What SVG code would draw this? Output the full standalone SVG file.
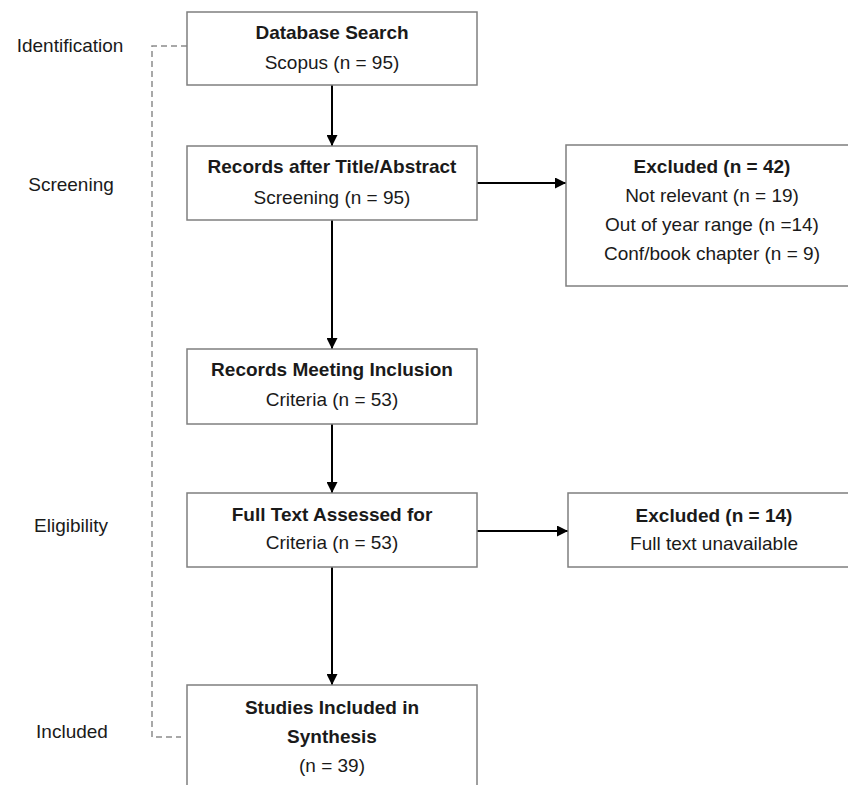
<svg xmlns="http://www.w3.org/2000/svg" width="848" height="785" viewBox="0 0 848 785">
<style>
.box{fill:#fff;stroke:#7f7f7f;stroke-width:1.5}
.t{font-family:"Liberation Sans",Arial,sans-serif;font-size:19px;fill:#1a1a1a;text-anchor:middle;dominant-baseline:central}
.b{font-weight:bold}
.lbl{font-family:"Liberation Sans",Arial,sans-serif;font-size:19px;fill:#1a1a1a;text-anchor:middle;dominant-baseline:central}
.ar{stroke:#000;stroke-width:2;fill:none}
.dash{stroke:#8c8c8c;stroke-width:1.5;fill:none;stroke-dasharray:6,4}
</style>
<defs>
<marker id="ah" viewBox="0 0 10 10" refX="10" refY="5" markerWidth="5.5" markerHeight="5.5" orient="auto" markerUnits="strokeWidth">
<path d="M0,0 L10,5 L0,10 z" fill="#000"/>
</marker>
</defs>
<rect width="848" height="785" fill="#fff"/>
<g id="stage-labels">
<text class="lbl" x="70" y="45">Identification</text>
<text class="lbl" x="71" y="184">Screening</text>
<text class="lbl" x="71" y="525">Eligibility</text>
<text class="lbl" x="72" y="731">Included</text>
</g>
<g id="connectors">
<path class="dash" d="M187,46 H152 V737 H181"/>
<line class="ar" x1="332" y1="85" x2="332" y2="146" marker-end="url(#ah)"/>
<line class="ar" x1="332" y1="220" x2="332" y2="349" marker-end="url(#ah)"/>
<line class="ar" x1="332" y1="424" x2="332" y2="493" marker-end="url(#ah)"/>
<line class="ar" x1="332" y1="567" x2="332" y2="685" marker-end="url(#ah)"/>
<line class="ar" x1="477" y1="183" x2="566" y2="183" marker-end="url(#ah)"/>
<line class="ar" x1="477" y1="531" x2="568" y2="531" marker-end="url(#ah)"/>
</g>
<g id="database-search">
<rect class="box" x="187" y="12" width="290" height="73"/>
<text class="t b" x="332" y="32">Database Search</text>
<text class="t" x="332" y="62">Scopus (n = 95)</text>
</g>
<g id="title-abstract">
<rect class="box" x="187" y="146" width="290" height="74"/>
<text class="t b" x="332" y="166">Records after Title/Abstract</text>
<text class="t" x="332" y="197">Screening (n = 95)</text>
</g>
<g id="excluded-42">
<rect class="box" x="566" y="145" width="290" height="141"/>
<text class="t b" x="712" y="166">Excluded (n = 42)</text>
<text class="t" x="712" y="195">Not relevant (n = 19)</text>
<text class="t" x="712" y="224">Out of year range (n =14)</text>
<text class="t" x="712" y="253">Conf/book chapter (n = 9)</text>
</g>
<g id="inclusion">
<rect class="box" x="187" y="349" width="290" height="75"/>
<text class="t b" x="332" y="369">Records Meeting Inclusion</text>
<text class="t" x="332" y="399">Criteria (n = 53)</text>
</g>
<g id="full-text">
<rect class="box" x="187" y="493" width="290" height="74"/>
<text class="t b" x="332" y="514">Full Text Assessed for</text>
<text class="t" x="332" y="542">Criteria (n = 53)</text>
</g>
<g id="excluded-14">
<rect class="box" x="568" y="493" width="290" height="74"/>
<text class="t b" x="714" y="515">Excluded (n = 14)</text>
<text class="t" x="714" y="543">Full text unavailable</text>
</g>
<g id="included">
<rect class="box" x="187" y="685" width="290" height="120"/>
<text class="t b" x="332" y="707">Studies Included in</text>
<text class="t b" x="332" y="736">Synthesis</text>
<text class="t" x="332" y="765">(n = 39)</text>
</g>
</svg>
